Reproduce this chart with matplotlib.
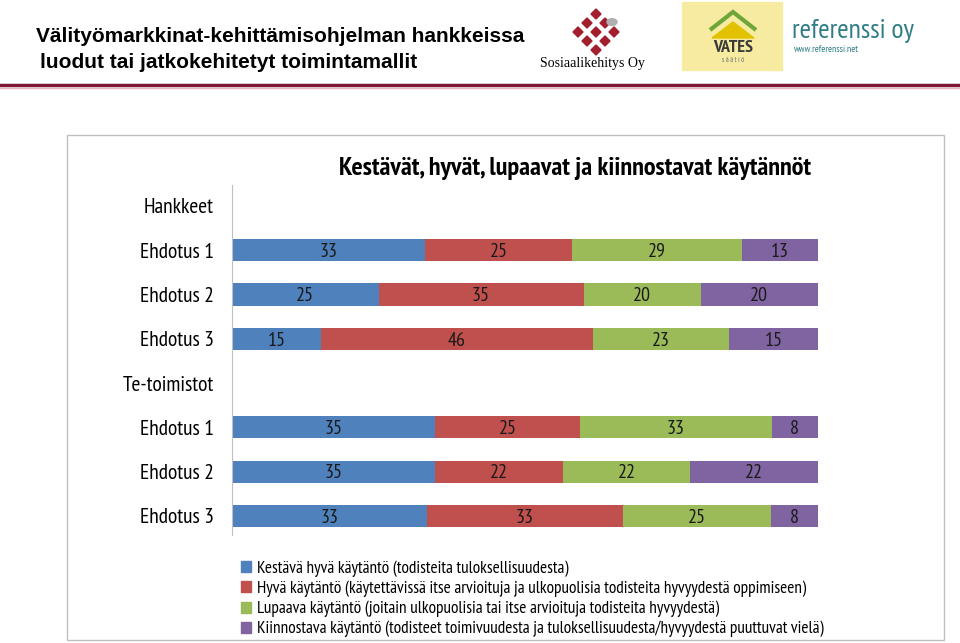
import matplotlib.pyplot as plt
from matplotlib.patches import Rectangle, Polygon
from matplotlib.lines import Line2D

plt.rcParams['font.family'] = ['PT Sans Narrow', 'DejaVu Sans']

categories = ["Hankkeet", "Ehdotus 1", "Ehdotus 2", "Ehdotus 3",
              "Te-toimistot", "Ehdotus 1", "Ehdotus 2", "Ehdotus 3"]
kestava = [None, 33, 25, 15, None, 35, 35, 33]
hyva = [None, 25, 35, 46, None, 25, 22, 33]
lupaava = [None, 29, 20, 23, None, 33, 22, 25]
kiinnostava = [None, 13, 20, 15, None, 8, 22, 8]

series = [kestava, hyva, lupaava, kiinnostava]
colors = ["#4F81BD", "#C0504D", "#9BBB59", "#8064A2"]
legend_labels = [
    "Kestävä hyvä käytäntö (todisteita tuloksellisuudesta)",
    "Hyvä käytäntö (käytettävissä itse arvioituja ja ulkopuolisia todisteita hyvyydestä oppimiseen)",
    "Lupaava käytäntö (joitain ulkopuolisia tai itse arvioituja todisteita hyvyydestä)",
    "Kiinnostava käytäntö (todisteet toimivuudesta ja tuloksellisuudesta/hyvyydestä puuttuvat vielä)",
]

fig = plt.figure(figsize=(9.6, 6.43), dpi=100)

# header
fig.text(0.038, 1 - 36 / 643, "Välityömarkkinat-kehittämisohjelman hankkeissa",
         fontsize=15, fontweight='bold', family=['Liberation Sans', 'DejaVu Sans'], va='center')
fig.text(0.042, 1 - 62 / 643, "luodut tai jatkokehitetyt toimintamallit",
         fontsize=15, fontweight='bold', family=['Liberation Sans', 'DejaVu Sans'], va='center')
fig.add_artist(Line2D([0, 1], [1 - 85 / 643] * 2, color="#7F1734", lw=2.5))
fig.add_artist(Line2D([0, 1], [1 - 88 / 643] * 2, color="#E8B4C0", lw=1))

# logos (rough)
for dx, dy in [(0, 0), (-1, 1), (1, 1), (-2, 2), (0, 2), (2, 2), (-1, 3), (1, 3), (0, 4)]:
    cx = 596 + dx * 9
    cy = 14 + dy * 9
    fig.add_artist(Polygon([[(cx) / 960, 1 - (cy - 5) / 643], [(cx + 5) / 960, 1 - cy / 643],
                            [cx / 960, 1 - (cy + 5) / 643], [(cx - 5) / 960, 1 - cy / 643]],
                           closed=True, color="#A31F2E"))
fig.add_artist(plt.Circle((612 / 960, 1 - 22 / 643), 5 / 960, color="#B0B0B0"))
fig.text(593 / 960, 1 - 64 / 643, "Sosiaalikehitys Oy", fontsize=10, family='Liberation Serif',
         ha='center', va='center')
fig.add_artist(Rectangle((682 / 960, 1 - 70 / 643), 100 / 960, 68 / 643, color="#F6EBA0"))
fig.add_artist(Polygon([[710 / 960, 1 - 30 / 643], [733 / 960, 1 - 12 / 643], [756 / 960, 1 - 30 / 643]],
                       closed=False, fill=False, color="#6FA63A", lw=3))
fig.add_artist(Polygon([[712 / 960, 1 - 38 / 643], [733 / 960, 1 - 22 / 643], [754 / 960, 1 - 38 / 643]],
                       closed=True, color="#E2C200"))
fig.text(733 / 960, 1 - 48 / 643, "VATES", fontsize=13, fontweight='bold', color="#3A3A3A",
         ha='center', va='center')
fig.text(733 / 960, 1 - 60 / 643, "s ä ä t i ö", fontsize=5, color="#6A6A6A", ha='center', va='center')
fig.text(792 / 960, 1 - 31 / 643, "referenssi oy", fontsize=20, color="#2E7D86", va='center')
fig.text(794 / 960, 1 - 50 / 643, "www.referenssi.net", fontsize=7, color="#2E7D86", va='center')

# chart frame
fig.add_artist(Rectangle((67 / 960, 3 / 643), 877 / 960, 505 / 643, fill=False,
                         edgecolor="#BFBFBF", lw=1))

ax = fig.add_axes([232 / 960, 1 - 535 / 643, (818 - 232) / 960, 350 / 643])
y = list(range(len(categories)))
left = [0.0] * len(categories)
for vals, col in zip(series, colors):
    for i, v in enumerate(vals):
        if v is None:
            continue
        total = sum(s[i] for s in series)
        w = v / total * 100
        ax.barh(i, w, left=left[i], height=0.5, color=col)
        ax.text(left[i] + w / 2, i + 0.04, str(v), ha='center', va='center', fontsize=14.5,
                color="#1A1A1A")
        left[i] += w

ax.set_xlim(0, 100)
ax.set_ylim(7.43, -0.47)
ax.set_yticks(y)
ax.set_yticklabels(categories, fontsize=15.5)
ax.tick_params(axis='y', length=0, pad=13)
ax.set_xticks([])
for s in ['top', 'right', 'bottom']:
    ax.spines[s].set_visible(False)
ax.spines['left'].set_color("#BFBFBF")

fig.text(575 / 960, 1 - 169 / 643, "Kestävät, hyvät, lupaavat ja kiinnostavat käytännöt",
         fontsize=18.9, fontweight='bold', ha='center', va='center')

handles = [Rectangle((0, 0), 1, 1, color=c) for c in colors]
fig.legend(handles, legend_labels, loc='upper left', bbox_to_anchor=(241 / 960, 1 - 560 / 643),
           frameon=False, fontsize=12.4, handlelength=0.6, handleheight=0.6,
           handletextpad=0.35, labelspacing=0.22, borderpad=0, borderaxespad=0)

fig.savefig("out.png", dpi=100)
